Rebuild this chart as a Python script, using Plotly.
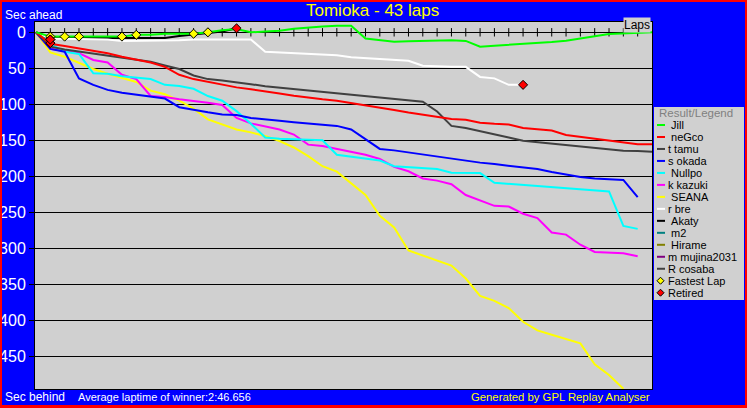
import plotly.graph_objects as go

# ---------------- data ----------------
laps_total = 43
names = [" Jill", " neGco", "t tamu", "s okada", " Nullpo", "k kazuki", " SEANA",
         "r bre", " Akaty", " m2", " Hirame", "m mujina2031", "R cosaba"]
colors = ["#00FF00", "#FF0000", "#404040", "#0000FF", "#00FFFF", "#FF00FF", "#FFFF00",
          "#FFFFFF", "#000000", "#008080", "#808000", "#800080", "#404040"]

jill = [0, 6, 6, 6, 6, 6, 6, 3.5, 3.5, 2, 1.5, 2, 0, -3, -4.5, 0, -1, -2, -5, -7, -8, -9, -9,
        8.5, 11, 13, 12.5, 12, 11, 11, 12, 20, 18.6, 17.5, 16.5, 15.3, 13.5, 11.7, 9, 5.5, 2.5, 1.5, 1, 0]
negco = [0, 16, 19, 22, 25, 29, 34, 38, 42, 48, 59, 65, 69, 72, 76.5, 79, 81.5, 85, 88, 91, 93, 95,
         98, 101, 104.5, 108, 111.5, 114.5, 118.5, 120.5, 121.5, 125.5, 127, 128, 133, 134.5, 136.5,
         142.5, 145, 147.5, 150, 153.5, 155.5, 155.5]
tamu = [0, 20, 24, 27, 29, 32, 35, 38, 41, 46, 51, 60, 65, 67, 69, 72, 75, 77, 78.5, 80, 82.5, 85,
        87, 89, 91, 93, 94.5, 96.5, 110, 130, 133, 137, 141, 146, 150.5, 152.5, 154.5, 156.5, 158.5,
        160.5, 162.5, 164.4, 165, 166]
okada = [0, 23, 27, 64, 73, 80, 84, 87, 89.5, 92, 104, 108, 111, 114, 115, 119, 121.5, 123, 125,
         126.5, 128, 130, 135, 149, 162, 164, 167, 169, 172.5, 176, 179, 181, 183, 185, 187, 190,
         194, 198, 201, 203, 204, 205, 229]
nullpo = [0, 16, 27, 30, 57, 57.5, 61, 63, 65, 73, 74.6, 78.5, 88.5, 95, 109.5, 127, 146, 148,
          148.5, 149, 150, 170, 172.5, 174.5, 178, 186, 187, 188, 190, 195, 195, 195.5, 209, 210.5,
          212, 213.5, 215, 216.5, 218, 219, 221, 269, 273]
kazuki = [0, 23, 26, 29, 38.5, 42, 59, 65, 88.5, 90, 93, 95, 97.7, 101, 119, 126.5, 131, 135, 142,
          156, 158, 162, 166, 170, 176, 187, 193, 203, 206, 211, 226, 233, 241, 242, 252, 258, 278,
          281, 295, 305, 305.5, 307, 311]
seana = [0, 28, 34, 42, 51, 57.5, 63, 69, 81, 86, 95, 106, 121, 128, 135, 139, 144, 151, 160, 172,
         186, 193.6, 210, 226, 255, 271, 303, 310, 317, 324, 342, 366, 373, 383, 402, 414, 420, 426,
         432, 461, 476, 495]
rbre = [0, 9, 9, 9, 9, 10, 12, 12, 12, 12, 11, 10, 10, 9, 9, 10, 27, 28, 29, 30, 30, 32, 34.5, 36,
        37.5, 38.5, 39.5, 46.5, 47.5, 48, 48, 62, 64, 73, 73]
akaty = [0, 8, 8, 8, 8, 8, 8, 8, 8, 8, 5, 3, 1, -1, -5.5]
m2 = [0, 10]
hirame = [0, 15]
mujina = [0, 15]
cosaba = [0, 10]

series = [jill, negco, tamu, okada, nullpo, kazuki, seana, rbre, akaty, m2, hirame, mujina, cosaba]
retired = [False, False, False, False, False, False, False, True, True, True, True, True, True]
fastest_laps = [1, 2, 3, 6, 7, 11, 12]   # set by Jill
lap_ticks = list(range(1, laps_total))
ytick_vals = [0, 50, 100, 150, 200, 250, 300, 350, 400, 450]

title_text = "Tomioka - 43 laps"
avg_text = "Average laptime of winner:2:46.656"

# ---------------- layout helpers ----------------
W, H = 747, 408
L, R, T, B = 35, 652, 22, 389
BLUE = "#0000FF"
GRAY = "#D0D0D0"
FONT = "Liberation Sans, Arial, sans-serif"


def px(x):
    return (x - L) / (R - L)


def py(y):
    return (B - y) / (B - T)


fig = go.Figure()

# lap tick marks on the zero line
fig.add_trace(go.Scatter(x=lap_ticks, y=[0] * len(lap_ticks), mode="markers",
                         marker=dict(symbol="line-ns", size=6,
                                     line=dict(color="black", width=1)),
                         hoverinfo="skip", showlegend=False))

for nm, col, vals in reversed(list(zip(names, colors, series))):
    fig.add_trace(go.Scatter(x=list(range(len(vals))), y=vals, mode="lines",
                             line=dict(color=col, width=2), name=nm.strip(),
                             showlegend=False))

# fastest lap markers
fig.add_trace(go.Scatter(x=fastest_laps, y=[jill[l] for l in fastest_laps], mode="markers",
                         marker=dict(symbol="diamond", size=7, color="#FFFF00",
                                     line=dict(color="black", width=1)),
                         name="Fastest Lap", showlegend=False))
# retired markers
rx = [len(v) - 1 for v, r in zip(series, retired) if r]
ry = [v[-1] for v, r in zip(series, retired) if r]
fig.add_trace(go.Scatter(x=rx, y=ry, mode="markers",
                         marker=dict(symbol="diamond", size=7, color="#FF0000",
                                     line=dict(color="black", width=1)),
                         name="Retired", showlegend=False))

shapes = []
annotations = []

# red outer border
shapes.append(dict(type="rect", xref="paper", yref="paper",
                   x0=px(0.5), x1=px(746.5), y0=py(406.5), y1=py(0.5),
                   line=dict(color="#FF0000", width=3), fillcolor="rgba(0,0,0,0)"))

# legend box
leg_x0, leg_x1, leg_y0, leg_y1 = 654, 744, 107, 300
shapes.append(dict(type="rect", xref="paper", yref="paper",
                   x0=px(leg_x0), x1=px(leg_x1), y0=py(leg_y1), y1=py(leg_y0),
                   line=dict(width=0), fillcolor=GRAY, layer="below"))
annotations.append(dict(text="Result/Legend", xref="paper", yref="paper", x=px(657), y=py(113.5),
                        xanchor="left", yanchor="middle", showarrow=False,
                        font=dict(family=FONT, size=11.5, color="#808080")))
item_y0, item_dy = 125, 11.98
for i, (nm, col) in enumerate(zip(names, colors)):
    cy = item_y0 + i * item_dy
    shapes.append(dict(type="line", xref="paper", yref="paper",
                       x0=px(657), x1=px(665), y0=py(cy), y1=py(cy),
                       line=dict(color=col, width=2)))
    annotations.append(dict(text=nm.replace(" ", "\u00a0"), xref="paper", yref="paper",
                            x=px(666), y=py(cy), xanchor="left", yanchor="middle",
                            showarrow=False, font=dict(family=FONT, size=11, color="black")))
for j, (lbl, col) in enumerate([("Fastest Lap", "#FFFF00"), ("Retired", "#FF0000")]):
    cy = item_y0 + (len(names) + j) * item_dy
    cx, r = 660.5, 3.5
    path = "M {} {} L {} {} L {} {} L {} {} Z".format(px(cx - r), py(cy), px(cx), py(cy - r),
                                                    px(cx + r), py(cy), px(cx), py(cy + r))
    shapes.append(dict(type="path", xref="paper", yref="paper", path=path,
                       fillcolor=col, line=dict(color="black", width=1)))
    annotations.append(dict(text=lbl, xref="paper", yref="paper", x=px(666), y=py(cy),
                            xanchor="left", yanchor="middle", showarrow=False,
                            font=dict(family=FONT, size=11, color="black")))

# texts around the chart
annotations += [
    dict(text=title_text, xref="paper", yref="paper", x=px(372), y=py(10.5),
         xanchor="center", yanchor="middle", showarrow=False,
         font=dict(family=FONT, size=17, color="#FFFF00")),
    dict(text="Sec ahead", xref="paper", yref="paper", x=px(3), y=py(15.5),
         xanchor="left", yanchor="middle", showarrow=False,
         font=dict(family=FONT, size=12, color="white")),
    dict(text="Sec behind", xref="paper", yref="paper", x=px(3), y=py(397),
         xanchor="left", yanchor="middle", showarrow=False,
         font=dict(family=FONT, size=12, color="white")),
    dict(text=avg_text, xref="paper", yref="paper", x=px(76), y=py(397),
         xanchor="left", yanchor="middle", showarrow=False,
         font=dict(family=FONT, size=11, color="white")),
    dict(text="Generated by GPL Replay Analyser", xref="paper", yref="paper", x=px(652), y=py(397),
         xanchor="right", yanchor="middle", showarrow=False,
         font=dict(family=FONT, size=11.3, color="#FFFF00")),
    dict(text="Laps", xref="paper", yref="paper", x=px(651), y=py(24.5),
         xanchor="right", yanchor="middle", showarrow=False, bgcolor=GRAY, borderpad=0,
         font=dict(family=FONT, size=12, color="black")),
]

fig.update_layout(
    width=W, height=H, autosize=False,
    margin=dict(l=L, r=W - R, t=T, b=H - B, pad=0, autoexpand=False),
    paper_bgcolor=BLUE, plot_bgcolor=GRAY,
    showlegend=False,
    shapes=shapes, annotations=annotations,
    xaxis=dict(range=[-0.07, laps_total], showgrid=False, zeroline=False,
               showticklabels=False, ticks="", showline=True, mirror=True,
               linecolor="black", linewidth=1, fixedrange=True, automargin=False),
    yaxis=dict(range=[(B - 32.3) / 0.72, (T - 32.3) / 0.72], tickmode="array",
               tickvals=ytick_vals, ticktext=[str(v) for v in ytick_vals],
               showgrid=True, gridcolor="black", gridwidth=1, zeroline=False,
               ticks="outside", ticklen=5, tickcolor="black", tickwidth=1,
               tickfont=dict(family=FONT, size=16, color="white"),
               showline=True, mirror=True, linecolor="black", linewidth=1, fixedrange=True,
               automargin=False),
    font=dict(family=FONT),
)

fig.write_html("out.html", config={"displayModeBar": False},
               post_script="document.body.style.margin='0';"
                           "document.body.style.overflow='hidden';")
